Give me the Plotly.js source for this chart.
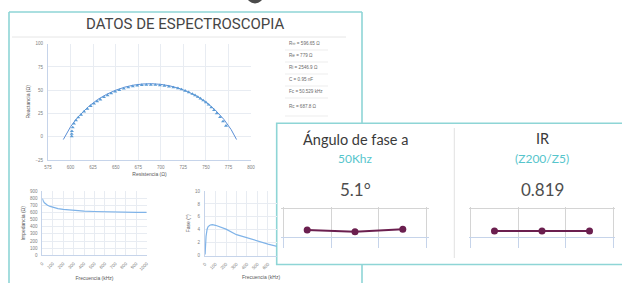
<!DOCTYPE html>
<html><head><meta charset="utf-8">
<script src="https://cdn.plot.ly/plotly-3.0.1.min.js"></script>
<style>html,body{margin:0;padding:0;background:#fff;}#chart{width:622px;height:283px;}</style>
</head><body><div id="chart"></div>
<script>
// ---- data ----
const fitR = [592, 596, 600, 605, 610, 620, 630, 640, 650, 660, 670, 680, 690, 700, 710, 720, 730, 740, 750, 760, 770, 778, 784];
const fitX = [-3, 4.4, 10.7, 17.4, 23, 32.5, 40, 45.6, 50, 53.3, 55.5, 56.7, 57, 56.3, 54.7, 52.1, 48.4, 43.5, 37.2, 29.1, 18.6, 7.7, -3];
const measR = [601.3, 601.3, 601.5, 602.4, 603.8, 606, 608.6, 611.6, 615, 618.6, 622.3, 626, 629.5, 633, 637, 641, 645, 649.5, 654, 659, 664, 669, 674, 679, 684, 689, 694, 699, 704, 709, 714, 719, 723, 727, 731, 735, 738, 741, 744, 747, 750, 753, 756, 759, 762, 765.7, 769, 772.3];
const measX = [0.5, 3, 6, 10, 14, 17.5, 20.7, 23.6, 27, 30, 33, 35.5, 38, 40, 42.5, 44.5, 46.5, 48.5, 50.2, 51.8, 53, 54.2, 55, 55.5, 55.8, 55.8, 55.7, 55.3, 54.8, 54, 53, 52, 50.8, 49.3, 47.8, 46, 44.5, 42.8, 41, 39, 37, 34.5, 31.5, 28.5, 25, 21, 16.5, 11.8];
const freqZ = [1, 5, 10, 20, 30, 50, 75, 100, 150, 200, 300, 400, 500, 600, 700, 800, 900, 1000];
const impZ = [792, 772, 756, 736, 721, 701, 684, 672, 654, 642, 628, 619, 613, 608, 605, 603, 601, 600];
const freqP = [1, 5, 10, 20, 30, 50, 70, 100, 150, 200, 300, 400, 500, 600, 700, 800, 900, 1000];
const phaseP = [0.2, 1.8, 3.0, 4.1, 4.5, 4.75, 4.8, 4.7, 4.45, 4.1, 3.25, 2.75, 2.25, 1.8, 1.4, 1.1, 0.9, 0.7];
const sparkCats = ['M1', 'M2', 'M3'];
const phaseSpark = [4.6, 3.6, 5.1];
const irSpark = [0.819, 0.819, 0.819];
const statsLines = ['R∞ = 596.65 Ω', 'Re = 779 Ω', 'Ri = 2546.9 Ω', 'C = 0.95 nF', 'Fc = 50.529 kHz', 'Rc = 687.8 Ω'];
const cardTitles = ['Ángulo de fase a', 'IR'];
const cardSubs = ['50Khz', '(Z200/Z5)'];
const cardValues = ['5.1°', '0.819'];

// ---- helpers (pixel -> paper) ----
const W = 622, H = 283;
const X = p => p / W;
const Y = p => 1 - p / H;
const teal = '#8ed5d6';
const axisBlue = '#c6d4ea';
const gridC = '#e8ecf2';
const tickF = {family: 'Liberation Sans, Arial, sans-serif', size: 4.5, color: '#808080'};
const titF = {family: 'Liberation Sans, Arial, sans-serif', size: 5, color: '#595959'};
const lineBlue = '#5b8fd6';
const curveBlue = '#7fb3e8';
const purple = '#6b1f4f';
const sparkGrid = '#d4d4d4';

function baseAxis(extra) {
  return Object.assign({
    showgrid: true, gridcolor: gridC, gridwidth: 1,
    showline: true, linecolor: axisBlue, linewidth: 1,
    zeroline: false, ticks: 'outside', ticklen: 3, tickcolor: 'rgba(0,0,0,0)',
    tickfont: tickF, fixedrange: true
  }, extra);
}

const traces = [
  {x: fitR, y: fitX, type: 'scatter', mode: 'lines', line: {color: lineBlue, width: 1}, xaxis: 'x', yaxis: 'y', hoverinfo: 'skip'},
  {x: measR, y: measX, type: 'scatter', mode: 'markers', marker: {symbol: 'triangle-up', size: 3.5, color: '#5b9bd5'}, xaxis: 'x', yaxis: 'y'},
  {x: freqZ, y: impZ, type: 'scatter', mode: 'lines', line: {color: curveBlue, width: 1.2}, xaxis: 'x2', yaxis: 'y2'},
  {x: freqP, y: phaseP, type: 'scatter', mode: 'lines', line: {color: curveBlue, width: 1.2}, xaxis: 'x3', yaxis: 'y3'},
  {x: sparkCats, y: phaseSpark, type: 'scatter', mode: 'lines+markers', line: {color: purple, width: 2}, marker: {size: 7, color: purple}, xaxis: 'x4', yaxis: 'y4'},
  {x: sparkCats, y: irSpark, type: 'scatter', mode: 'lines+markers', line: {color: purple, width: 2}, marker: {size: 7, color: purple}, xaxis: 'x5', yaxis: 'y5'}
];

// spark boxes: gridlines at category boundaries; range padded so edge gridlines are drawn
const pad = 0.04;
const sparkX = (l, r) => {
  const cw = (r - l) / 3;
  return {
    domain: [X(l - pad * cw), X(r + pad * cw)], type: 'category', tickson: 'boundaries', range: [-0.5 - pad, 2.5 + pad],
    showgrid: true, gridcolor: sparkGrid, gridwidth: 1, showline: true, linecolor: axisBlue, linewidth: 1,
    ticks: 'outside', ticklen: 10, tickcolor: axisBlue, showticklabels: false, zeroline: false, fixedrange: true
  };
};
const sparkY = (top) => ({
  domain: [Y(237.3), Y(237.3 - 28.3 * 1.07)], range: [0, top * 1.07], tickvals: [top], showgrid: true, gridcolor: sparkGrid, gridwidth: 1,
  showticklabels: false, zeroline: false, showline: false, ticks: '', fixedrange: true
});

const layout = {
  width: W, height: H, margin: {l: 0, r: 0, t: 0, b: 0},
  paper_bgcolor: '#ffffff', plot_bgcolor: 'rgba(0,0,0,0)', showlegend: false,
  font: {family: 'Liberation Sans, Arial, sans-serif'},
  xaxis: baseAxis({domain: [X(48), X(251)], range: [575, 800], dtick: 25, tick0: 575, anchor: 'y',
    title: {text: 'Resistencia (Ω)', font: titF, standoff: 3}}),
  yaxis: baseAxis({domain: [Y(160), Y(43.7)], range: [-25, 100], dtick: 25, tick0: 0, anchor: 'x',
    title: {text: 'Reactancia (Ω)', font: titF, standoff: 4}}),
  xaxis2: baseAxis({domain: [X(42.3), X(146.7)], range: [0, 1000], dtick: 100, tickangle: -45, anchor: 'y2',
    title: {text: 'Frecuencia (kHz)', font: titF, standoff: 5}}),
  yaxis2: baseAxis({domain: [Y(255.3), Y(191)], range: [0, 900], dtick: 100, anchor: 'x2',
    title: {text: 'Impedancia (Ω)', font: titF, standoff: 4}}),
  xaxis3: baseAxis({domain: [X(205), X(276.7)], range: [0, 683], dtick: 100, tickangle: -45, anchor: 'y3'}),
  yaxis3: baseAxis({domain: [Y(255.7), Y(191)], range: [0, 10], dtick: 2, anchor: 'x3',
    title: {text: 'Fase (°)', font: titF, standoff: 4}}),
  xaxis4: Object.assign(sparkX(283.3, 426.7), {anchor: 'y4'}),
  yaxis4: Object.assign(sparkY(18), {anchor: 'x4'}),
  xaxis5: Object.assign(sparkX(470.7, 613.3), {anchor: 'y5'}),
  yaxis5: Object.assign(sparkY(3.68), {anchor: 'x5'}),
  shapes: [],
  annotations: []
};

const S = layout.shapes;
const seg = (x0, y0, x1, y1, color, w) => S.push({type: 'line', xref: 'paper', yref: 'paper', layer: 'below',
  x0: X(x0), y0: Y(y0), x1: X(x1), y1: Y(y1), line: {color: color, width: w}});
S.push({type: 'circle', xref: 'paper', yref: 'paper', layer: 'below', x0: X(246.5), x1: X(263.5), y0: Y(3.5), y1: Y(-13.5),
  fillcolor: '#4b4b4b', line: {width: 0}});
seg(9, 12, 9, 290, teal, 1.6);
seg(9, 12, 362, 12, teal, 1.6);
seg(362, 12, 362, 123.3, teal, 1.6);
seg(362, 264.5, 362, 290, teal, 1.6);
seg(12, 37, 346, 37, '#e6e6e6', 1);
[50, 62, 74, 86, 98, 116].forEach(y => seg(285, y, 328, y, '#ededed', 1));
S.push({type: 'rect', xref: 'paper', yref: 'paper', layer: 'below', x0: X(276.7), x1: X(640), y0: Y(264.5), y1: Y(123.3),
  fillcolor: '#ffffff', line: {color: teal, width: 1.6}});
seg(454.3, 128, 454.3, 258, '#e2e2e2', 1);

const A = layout.annotations;
const ann = (text, x, y, font, xa) => A.push({text: text, xref: 'paper', yref: 'paper', x: X(x), y: Y(y),
  xanchor: xa || 'center', yanchor: 'middle', showarrow: false, font: font});
ann('DATOS DE ESPECTROSCOPIA', 185, 24, {family: 'Roboto, sans-serif', size: 15, color: '#454545'});
const statY = [43.8, 55, 67.2, 79.6, 91.8, 106.2];
statsLines.forEach((t, i) => ann(t, 286.5, statY[i], {family: 'Liberation Sans, Arial, sans-serif', size: 4.6, color: '#6a6a6a'}, 'left'));
const cardX = [355.4, 542.3];
cardX.forEach((cx, i) => {
  ann(cardTitles[i], cx, 139, {family: 'Lato, sans-serif', size: 14.5, color: '#3a3a3a'});
  ann(cardSubs[i], cx, 158, {family: 'Lato, sans-serif', size: 12, color: '#56c5cc'});
  ann(cardValues[i], cx, 189, {family: 'Lato, sans-serif', size: 17, color: '#4d4d4d'});
});
ann('Frecuencia (kHz)', 260.7, 276.7, titF);

Plotly.newPlot('chart', traces, layout, {staticPlot: true, displayModeBar: false});
</script></body></html>
